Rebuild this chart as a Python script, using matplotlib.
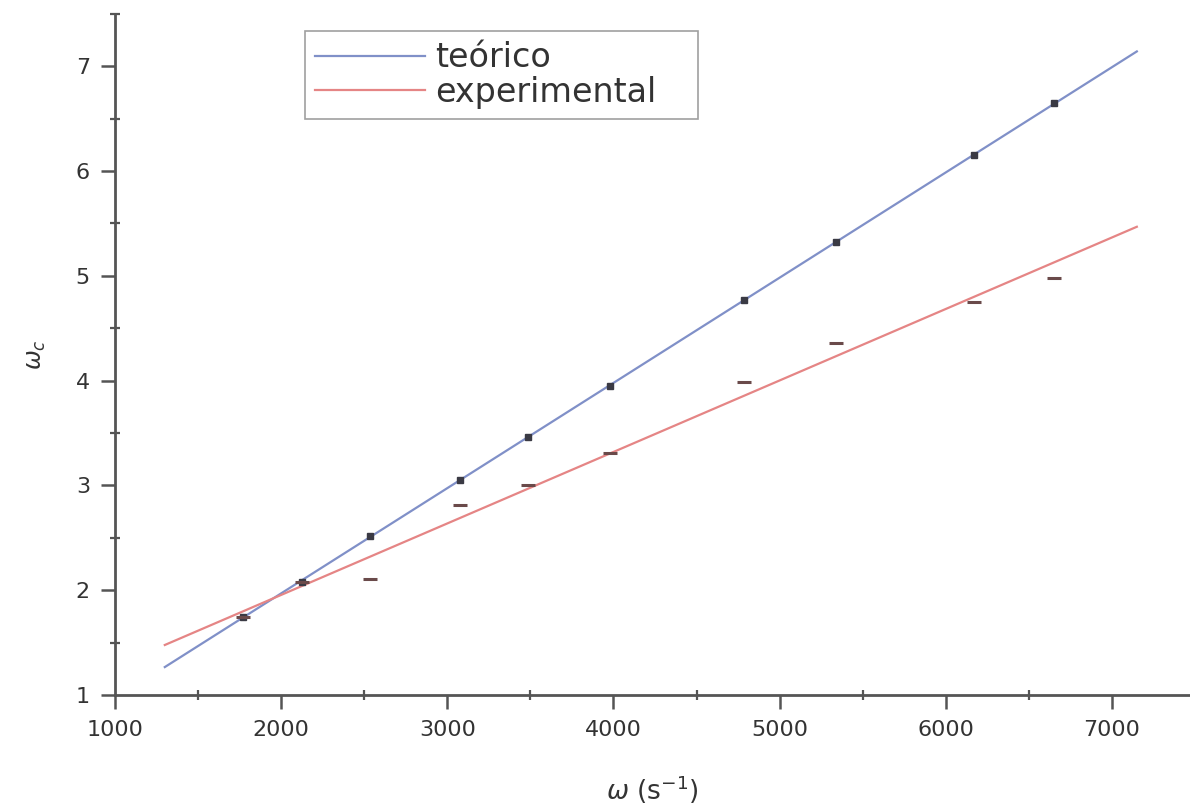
import numpy as np
import matplotlib.pyplot as plt
from matplotlib.ticker import MultipleLocator

# frecuencias medidas y valores teorico / experimental
omega = [1770, 2124, 2533, 3075, 3483, 3977, 4788, 5342, 6171, 6652]
teorico = [1.74, 2.08, 2.52, 3.05, 3.46, 3.95, 4.77, 5.32, 6.15, 6.65]
experimental = [1.74, 2.08, 2.11, 2.81, 3.00, 3.31, 3.99, 4.36, 4.75, 4.98]

# rango de las rectas de ajuste
x_fit = np.array([1300, 7150])

fig = plt.figure(figsize=(11.9, 8.1), dpi=100)
ax = fig.add_axes([0.0966, 0.142, 0.9034, 0.841])

# ajuste lineal de cada serie
p_teo = np.polyfit(omega, teorico, 1)
p_exp = np.polyfit(omega, experimental, 1)

ax.plot(x_fit, np.polyval(p_teo, x_fit), color='#8090c8', lw=1.6, label='teórico')
ax.plot(x_fit, np.polyval(p_exp, x_fit), color='#e58585', lw=1.6, label='experimental')

ax.plot(omega, teorico, 's', ms=5, color='#3a3a44', zorder=3)
ax.plot(omega, experimental, '_', ms=10, mew=2.2, color='#6a4a4a', zorder=3)

ax.set_xlim(1000, 7470)
ax.set_ylim(1, 7.5)
ax.xaxis.set_major_locator(MultipleLocator(1000))
ax.xaxis.set_minor_locator(MultipleLocator(500))
ax.yaxis.set_major_locator(MultipleLocator(1))
ax.yaxis.set_minor_locator(MultipleLocator(0.5))

for s in ['top', 'right']:
    ax.spines[s].set_visible(False)
for s in ['left', 'bottom']:
    ax.spines[s].set_color('#555555')
    ax.spines[s].set_linewidth(2)

ax.tick_params(which='major', direction='out', length=10, width=1.8, color='#555555',
               labelsize=16, labelcolor='#333333', pad=8)
ax.tick_params(which='minor', direction='inout', length=7, width=1.6, color='#555555')

ax.set_xlabel(r'$\omega$ (s$^{-1}$)', fontsize=19, color='#333333', labelpad=24)
ax.set_ylabel(r'$\omega_c$', fontsize=17, color='#333333', labelpad=20)

# leyenda con ancho fijo
leg = ax.legend(loc='upper left', bbox_to_anchor=(0.177, 0.974, 0.365, 0.0),
                mode='expand', borderaxespad=0, fontsize=24, fancybox=False,
                edgecolor='#888888', handlelength=3.3, borderpad=0.3,
                labelspacing=0.05, handletextpad=0.3)
leg.get_frame().set_linewidth(1.2)
for t in leg.get_texts():
    t.set_color('#333333')

fig.savefig('out.png', dpi=100)
